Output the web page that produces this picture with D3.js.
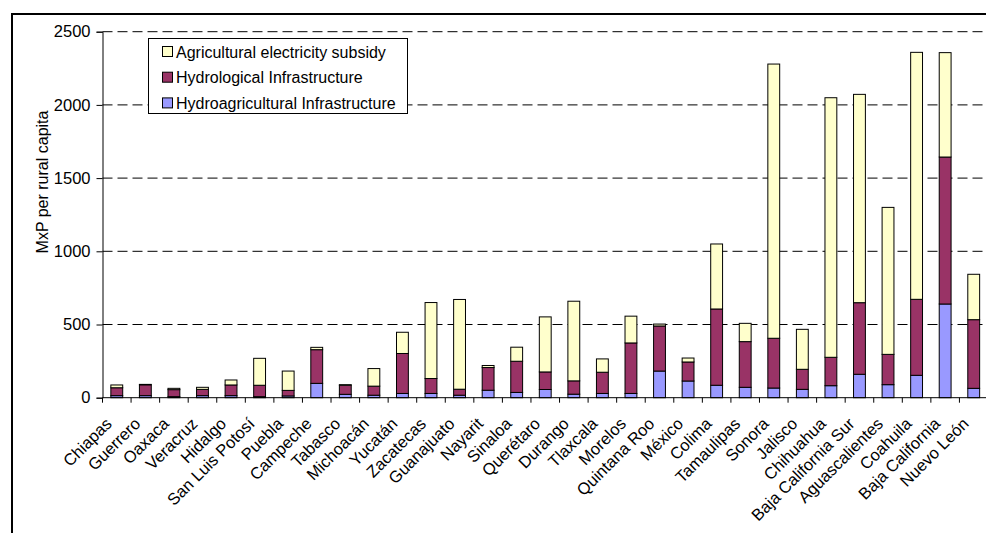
<!DOCTYPE html>
<html>
<head>
<meta charset="utf-8">
<script src="https://cdn.jsdelivr.net/npm/d3@7"></script>
<style>
  html, body { margin: 0; padding: 0; background: #fff; }
  svg { display: block; }
  text { font-family: "Liberation Sans", Arial, sans-serif; fill: #000; }
</style>
</head>
<body>
<svg id="chart" width="986" height="533"></svg>
<script>
// States ordered by total spending per rural capita
const categories = [
  "Chiapas", "Guerrero", "Oaxaca", "Veracruz", "Hidalgo", "San Luis Potosí",
  "Puebla", "Campeche", "Tabasco", "Michoacán", "Yucatán", "Zacatecas",
  "Guanajuato", "Nayarit", "Sinaloa", "Querétaro", "Durango", "Tlaxcala",
  "Morelos", "Quintana Roo", "México", "Colima", "Tamaulipas", "Sonora",
  "Jalisco", "Chihuahua", "Baja California Sur", "Aguascalientes", "Coahuila",
  "Baja California", "Nuevo León"
];

// MxP per rural capita, by component
const hydroagricultural = [
  14, 14, 7, 14, 14, 7, 12, 98, 23, 17, 29, 29, 17, 51, 36, 56, 24, 29,
  29, 182, 114, 85, 71, 66, 57, 82, 160, 89, 153, 640, 64
];
const hydrological = [
  54, 74, 48, 43, 73, 78, 38, 230, 62, 62, 273, 102, 41, 155, 213, 120, 91, 145,
  345, 308, 130, 521, 312, 340, 137, 194, 489, 207, 519, 1004, 469
];
const electricity = [
  19, 3, 9, 14, 34, 184, 132, 16, 4, 120, 145, 519, 613, 14, 96, 376, 544, 91,
  183, 13, 27, 444, 125, 1873, 273, 1773, 1423, 1004, 1687, 713, 310
];

const yTicks = [0, 500, 1000, 1500, 2000, 2500];

const seriesKeys = ["hydroagri", "hydro", "elec"];
const seriesNames = {
  elec: "Agricultural electricity subsidy",
  hydro: "Hydrological Infrastructure",
  hydroagri: "Hydroagricultural Infrastructure"
};
const colors = { hydroagri: "#9999FF", hydro: "#993366", elec: "#FFFFCC" };

const rows = categories.map((c, i) => ({
  state: c,
  hydroagri: hydroagricultural[i],
  hydro: hydrological[i],
  elec: electricity[i]
}));

const svg = d3.select("#chart");

// outer chart frame
svg.append("rect")
  .attr("x", 12).attr("y", 14)
  .attr("width", 1000).attr("height", 600)
  .attr("fill", "none").attr("stroke", "#000").attr("stroke-width", 2);

const plotLeft = 102.5, plotRight = 988, plotTop = 31.7, plotBottom = 397.7;

const x = d3.scaleBand()
  .domain(categories)
  .range([plotLeft, plotRight])
  .paddingInner(0.585)
  .paddingOuter(0.2925);

const step = (plotRight - plotLeft) / categories.length;

const y = d3.scaleLinear().domain([0, 2500]).range([plotBottom, plotTop]);

// horizontal dashed gridlines
svg.append("g").selectAll("line")
  .data(yTicks.filter(t => t > 0))
  .join("line")
  .attr("x1", plotLeft).attr("x2", plotRight)
  .attr("y1", d => y(d)).attr("y2", d => y(d))
  .attr("stroke", "#000").attr("stroke-width", 1)
  .attr("stroke-dasharray", "10,5");

// stacked bars
const stacked = d3.stack().keys(seriesKeys)(rows);

svg.append("g").selectAll("g")
  .data(stacked)
  .join("g")
  .attr("fill", d => colors[d.key])
  .selectAll("rect")
  .data(d => d)
  .join("rect")
  .attr("x", d => x(d.data.state))
  .attr("width", x.bandwidth())
  .attr("y", d => y(d[1]))
  .attr("height", d => y(d[0]) - y(d[1]))
  .attr("stroke", "#000")
  .attr("stroke-width", 1);

// y axis
const yAxis = d3.axisLeft(y).tickValues(yTicks).tickFormat(d3.format("d"))
  .tickSize(6).tickPadding(6);
const gy = svg.append("g").attr("transform", `translate(${plotLeft},0)`).call(yAxis);
gy.attr("font-family", null).attr("font-size", null);
gy.select(".domain").attr("stroke", "#000");
gy.selectAll(".tick line").attr("stroke", "#000");
gy.selectAll("text")
  .style("font-size", "16.5px")
  .attr("fill", "#000");

// x axis: tick marks at band boundaries
svg.append("line")
  .attr("x1", plotLeft).attr("x2", plotRight)
  .attr("y1", plotBottom).attr("y2", plotBottom)
  .attr("stroke", "#000");

const boundaries = d3.range(categories.length + 1).map(i => plotLeft + i * step);
svg.append("g").selectAll("line")
  .data(boundaries)
  .join("line")
  .attr("x1", d => d).attr("x2", d => d)
  .attr("y1", plotBottom).attr("y2", plotBottom + 5)
  .attr("stroke", "#000");

// rotated category labels
svg.append("g").selectAll("text")
  .data(categories)
  .join("text")
  .attr("transform", d => `translate(${x(d) + x.bandwidth() / 2 - 8},${plotBottom + 23}) rotate(-45)`)
  .attr("text-anchor", "end")
  .attr("dy", "0.35em")
  .style("font-size", "16.5px")
  .text(d => d);

// y axis title
svg.append("text")
  .attr("transform", "translate(42,182) rotate(-90)")
  .attr("text-anchor", "middle")
  .attr("dy", "0.35em")
  .style("font-size", "16px")
  .text("MxP per rural capita");

// legend
const legend = svg.append("g");
legend.append("rect")
  .attr("x", 148.5).attr("y", 38.5)
  .attr("width", 259).attr("height", 75)
  .attr("fill", "#fff").attr("stroke", "#000");

const legendOrder = ["elec", "hydro", "hydroagri"];
const li = legend.selectAll("g.item")
  .data(legendOrder)
  .join("g")
  .attr("class", "item")
  .attr("transform", (d, i) => `translate(0,${52 + i * 25.7})`);

li.append("rect")
  .attr("x", 162.5).attr("y", -5.5)
  .attr("width", 10).attr("height", 10)
  .attr("fill", d => colors[d])
  .attr("stroke", "#000");

li.append("text")
  .attr("x", 176)
  .attr("dy", "0.35em")
  .style("font-size", "16px")
  .text(d => seriesNames[d]);
</script>
</body>
</html>
